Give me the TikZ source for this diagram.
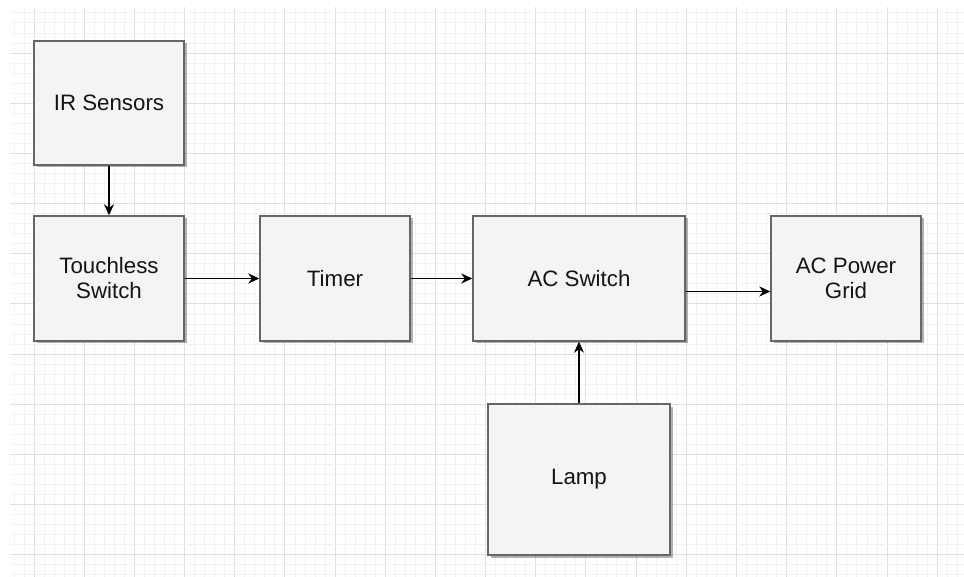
\documentclass[tikz,border=0pt]{standalone}
\usepackage{fontspec}
\setmainfont{Liberation Sans}
\usetikzlibrary{arrows.meta,shadows}
\definecolor{boxfill}{HTML}{F4F4F4}
\definecolor{boxline}{HTML}{666666}
\definecolor{gridminor}{HTML}{F2F2F2}
\definecolor{gridmajor}{HTML}{E0E0E0}
\definecolor{labeltext}{HTML}{141414}
\tikzset{
  block/.style={rectangle, draw=boxline, fill=boxfill, line width=1.4pt,
    inner sep=0pt, align=center, text=labeltext,
    font=\fontsize{22.3}{25}\selectfont,
    drop shadow={shadow xshift=2.5pt, shadow yshift=-2.5pt, fill=black, opacity=0.3}},
  link/.style={draw=black, line width=1.5pt,
    -{Stealth[length=11pt, width=10pt, inset=3.5pt]}},
  minorline/.style={draw=gridminor, line width=0.8pt},
  majorline/.style={draw=gridmajor, line width=0.9pt}
}
\begin{document}
\begin{tikzpicture}[x=1pt,y=-1pt]
  % page area
  \useasboundingbox (0,0) rectangle (964,577);
  \fill[white] (0,0) rectangle (964,577);

  % background grid
  \begin{scope}
    \clip (10,8) rectangle (964,577);
    \foreach \k in {-3,...,93} {
      \pgfmathsetmacro{\gx}{34+\k*10.035}
      \pgfmathtruncatemacro{\m}{mod(\k+100,5)}
      \ifnum\m=0\relax
        \draw[majorline] (\gx,0) -- (\gx,577);
      \else
        \draw[minorline] (\gx,0) -- (\gx,577);
      \fi
    }
    \foreach \k in {-5,...,53} {
      \pgfmathsetmacro{\gy}{53+\k*10.035}
      \pgfmathtruncatemacro{\m}{mod(\k+100,5)}
      \ifnum\m=0\relax
        \draw[majorline] (0,\gy) -- (964,\gy);
      \else
        \draw[minorline] (0,\gy) -- (964,\gy);
      \fi
    }
  \end{scope}

  % blocks
  \node[block, minimum width=150pt, minimum height=124pt] (ir)    at (109,103)   {IR Sensors};
  \node[block, minimum width=150pt, minimum height=125pt] (touch) at (109,278.5) {Touchless\\Switch};
  \node[block, minimum width=150pt, minimum height=125pt] (timer) at (335,278.5) {Timer};
  \node[block, minimum width=212pt, minimum height=125pt] (acsw)  at (579,278.5) {AC Switch};
  \node[block, minimum width=150pt, minimum height=125pt] (power) at (846,278.5) {AC Power\\Grid};
  \node[block, minimum width=182pt, minimum height=151pt] (lamp)  at (579,479.5) {Lamp};

  % connectors
  \draw[link] (ir.south) -- (touch.north);
  \draw[link] (touch.east) -- (timer.west);
  \draw[link] (timer.east) -- (acsw.west);
  \draw[link] ([yshift=-13pt]acsw.east) -- ([yshift=-13pt]power.west);
  \draw[link] (lamp.north) -- (acsw.south);
\end{tikzpicture}
\end{document}
